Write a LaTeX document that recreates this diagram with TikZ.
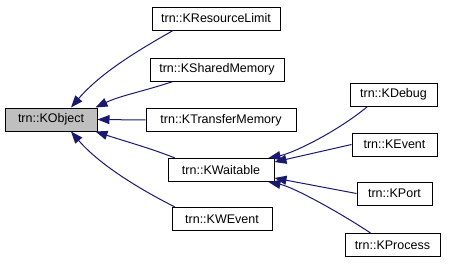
\documentclass[tikz,border=0pt]{standalone}
\usepackage{fontspec}
\setmainfont{Liberation Sans}
\usetikzlibrary{arrows.meta}
\definecolor{edgeblue}{HTML}{191970}
\definecolor{basefill}{HTML}{BFBFBF}
\tikzset{
  cls/.style={draw=black, line width=1pt, fill=white, inner sep=0pt,
    minimum height=23pt, font=\fontsize{12.5}{14}\selectfont},
  inh/.style={draw=edgeblue, line width=1pt,
    -{Triangle[length=12pt,width=9pt,fill=edgeblue]}},
}
\begin{document}
\begin{tikzpicture}[x=1pt,y=-1pt]
\useasboundingbox (0,0) rectangle (453,265);

% classes
\node[cls, fill=basefill, minimum width=92pt] (kobj) at (51,119.5) {trn::KObject};
\node[cls, minimum width=128pt] (krl) at (216,18.5) {trn::KResourceLimit};
\node[cls, minimum width=134pt] (ksm) at (217,69.5) {trn::KSharedMemory};
\node[cls, minimum width=150pt] (ktm) at (221,120) {trn::KTransferMemory};
\node[cls, minimum width=106pt] (kwait) at (221,170) {trn::KWaitable};
\node[cls, minimum width=100pt] (kwev) at (222,219) {trn::KWEvent};
\node[cls, minimum width=87pt] (kdbg) at (393.5,94.5) {trn::KDebug};
\node[cls, minimum width=85pt] (kev) at (394.5,144.5) {trn::KEvent};
\node[cls, minimum width=75pt] (kport) at (394.5,193.5) {trn::KPort};
\node[cls, minimum width=95pt] (kproc) at (392.5,245) {trn::KProcess};

% inheritance from KObject
\draw[inh] ([xshift=-43pt]krl.south) .. controls +(-35,20) and +(30,-35) .. ([xshift=20pt]kobj.north);
\draw[inh] ([xshift=-44pt]ksm.south) .. controls +(-30,10) and +(25,-12) .. ([xshift=-2pt]kobj.north east);
\draw[inh] (ktm.west) -- (kobj.east);
\draw[inh] ([xshift=-46pt]kwait.north) .. controls +(-25,-10) and +(30,10) .. ([xshift=-2pt]kobj.south east);
\draw[inh] ([xshift=-47pt]kwev.north) .. controls +(-30,-15) and +(30,35) .. ([xshift=20pt]kobj.south);

% inheritance from KWaitable
\draw[inh] ([xshift=-26pt]kdbg.south) .. controls +(-30,25) and +(25,-5) .. ([xshift=-6pt]kwait.north east);
\draw[inh] (kev.west) -- ([yshift=8pt]kwait.east);
\draw[inh] (kport.west) -- ([yshift=-8pt]kwait.east);
\draw[inh] ([xshift=-22pt]kproc.north) .. controls +(-30,-20) and +(25,5) .. ([xshift=-6pt]kwait.south east);
\end{tikzpicture}
\end{document}
